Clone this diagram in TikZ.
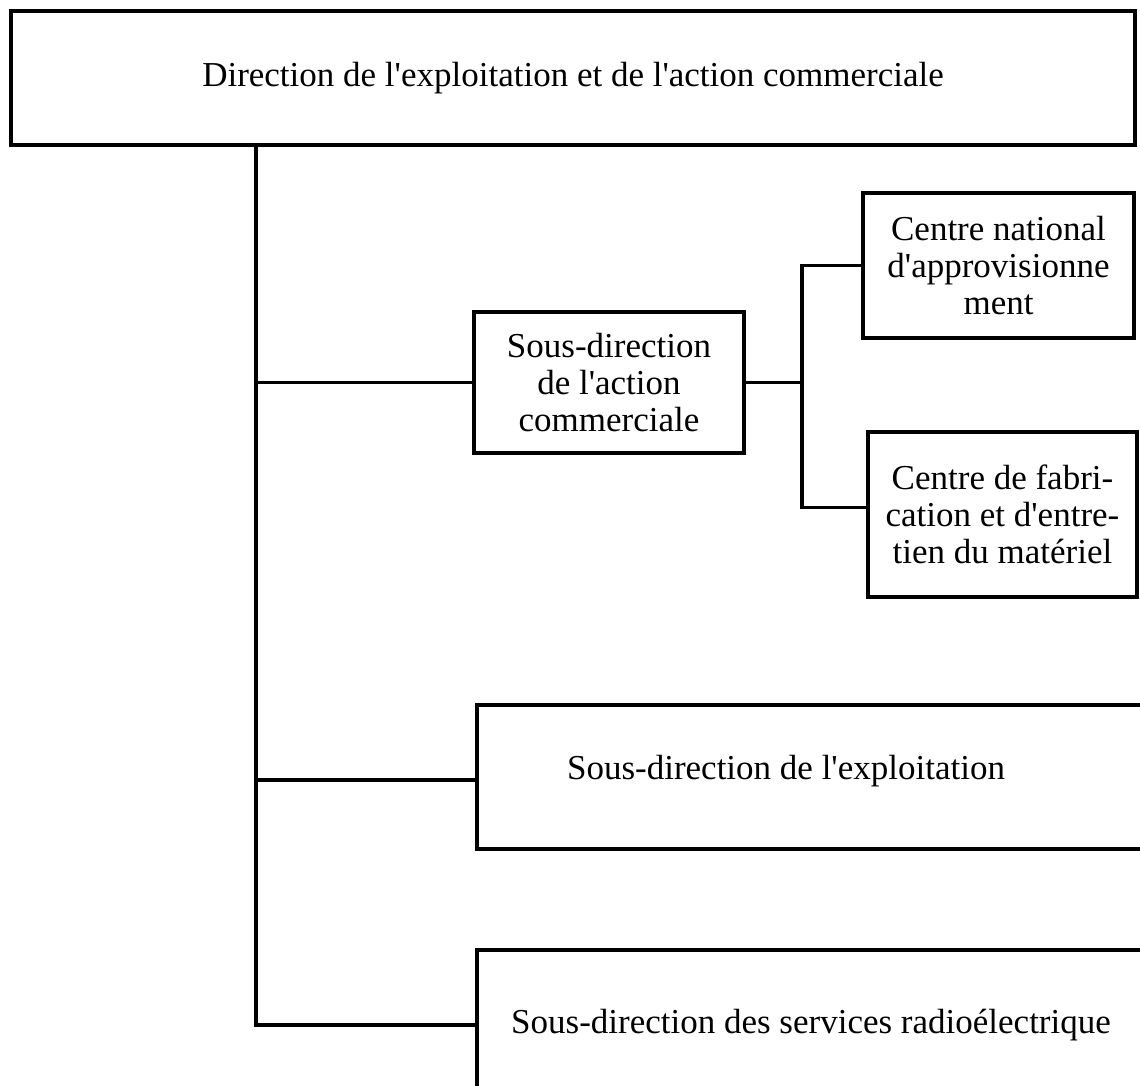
\documentclass[tikz,border=0pt]{standalone}
\usepackage{fontspec}
% a family without the TeX mapping keeps the straight apostrophe
\newfontfamily\labelfont{Liberation Serif}
\begin{document}
\begin{tikzpicture}[x=0.5pt,y=-0.5pt,
  frame/.style={draw=black, line width=1.9pt, inner sep=0pt, align=center,
    font=\labelfont\fontsize{17.5}{18.5}\selectfont},
  frameline/.style={draw=black, line width=1.9pt},
  link/.style={draw=black, line width=1.7pt},
  lbl/.style={inner sep=0pt, align=center, font=\labelfont\fontsize{17.5}{18.5}\selectfont}]
\useasboundingbox (0,0) rectangle (1140,1086);

% head office
\node[frame, minimum width=562pt, minimum height=67pt] (top) at (573,78)
  {Direction de l'exploitation et de l'action commerciale};

% commercial sub-directorate and its two centres
\node[frame, minimum width=135pt, minimum height=70.5pt] (A) at (609,382.5)
  {Sous-direction\\de l'action\\commerciale};
\node[frame, minimum width=135.5pt, minimum height=72.5pt] (B) at (998.5,265.5)
  {Centre national\\d'approvisionne\\ment};
\node[frame, minimum width=134.5pt, minimum height=82.5pt] (C) at (1002.5,514.5)
  {Centre de fabri-\\cation et d'entre-\\tien du matériel};

% operations sub-directorate (box runs off the right edge)
\coordinate (Dnw) at (477,705);
\coordinate (Dsw) at (477,849);
\coordinate (Dw) at (477,780);
\draw[frameline] (1150,705) -- (Dnw) -- (Dsw) -- (1150,849);
\node[lbl] (Dtxt) at (786,771) {Sous-direction de l'exploitation};

% radio services sub-directorate (box runs off the right and bottom edges)
\coordinate (Enw) at (477,950);
\coordinate (Ew) at (477,1025);
\draw[frameline] (1150,950) -- (Enw) -- (477,1100);
\node[lbl] (Etxt) at (811,1025) {Sous-direction des services radioélectrique};

% main trunk and branches
\coordinate (trunk) at (256,1025);
\draw[link] (top.south -| trunk) -- (trunk) -- (Ew);
\draw[link] (trunk |- A.west) -- (A.west);
\draw[link] (trunk |- Dw) -- (Dw);

% secondary fork
\coordinate (fork) at (802,0);
\coordinate (Cin) at ([yshift=3.5pt]C.west);
\draw[link] (A.east) -- (A.east -| fork);
\draw[link] (B.west) -| (fork |- Cin) -- (Cin);
\end{tikzpicture}
\end{document}
